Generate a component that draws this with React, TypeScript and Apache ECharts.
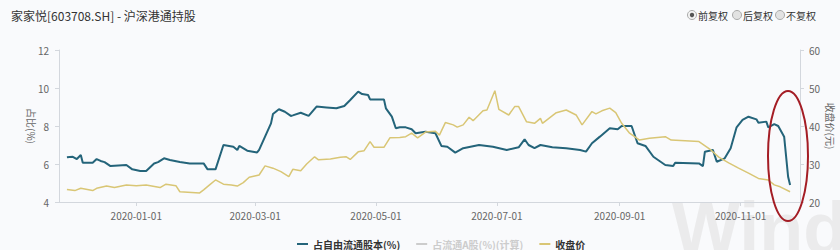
import React, { useEffect, useRef } from 'react';
import * as echarts from 'echarts';

const titleText = '家家悦[603708.SH] - 沪深港通持股';
const radioLabels = ['前复权', '后复权', '不复权'];
const legendNames = ['占自由流通股本(%)', '占流通A股(%)(计算)', '收盘价'];
const xTickDates = ['2020-01-01', '2020-03-01', '2020-05-01', '2020-07-01', '2020-09-01', '2020-11-01'];
const leftAxisName = '占比(%)';
const rightAxisName = '收盘价(元)';
const watermarkText = 'Wind';
const xMin = '2019-11-23';
const xMax = '2020-12-01';

// 占自由流通股本(%)
const freeFloatDates = [
  '2019-11-27', '2019-11-30', '2019-12-02', '2019-12-04', '2019-12-05', '2019-12-10', '2019-12-12', '2019-12-14',
  '2019-12-16', '2019-12-19', '2019-12-27', '2019-12-30', '2020-01-03', '2020-01-06', '2020-01-10', '2020-01-12',
  '2020-01-15', '2020-01-18', '2020-01-23', '2020-01-28', '2020-02-04', '2020-02-06', '2020-02-10', '2020-02-14',
  '2020-02-19', '2020-02-21', '2020-02-22', '2020-02-26', '2020-03-02', '2020-03-03', '2020-03-06', '2020-03-09',
  '2020-03-10', '2020-03-13', '2020-03-16', '2020-03-19', '2020-03-20', '2020-03-24', '2020-03-28', '2020-04-01',
  '2020-04-06', '2020-04-11', '2020-04-15', '2020-04-18', '2020-04-22', '2020-04-24', '2020-04-27', '2020-04-28',
  '2020-05-05', '2020-05-06', '2020-05-09', '2020-05-11', '2020-05-13', '2020-05-16', '2020-05-19', '2020-05-21',
  '2020-05-26', '2020-05-31', '2020-06-03', '2020-06-06', '2020-06-10', '2020-06-14', '2020-06-22', '2020-06-29',
  '2020-07-06', '2020-07-12', '2020-07-15', '2020-07-17', '2020-07-20', '2020-07-23', '2020-07-29', '2020-08-05',
  '2020-08-12', '2020-08-15', '2020-08-18', '2020-08-22', '2020-08-27', '2020-08-31', '2020-09-02', '2020-09-07',
  '2020-09-10', '2020-09-14', '2020-09-18', '2020-09-24', '2020-09-28', '2020-09-29', '2020-10-11', '2020-10-13',
  '2020-10-14', '2020-10-18', '2020-10-20', '2020-10-24', '2020-10-27', '2020-10-30', '2020-11-02', '2020-11-05',
  '2020-11-09', '2020-11-10', '2020-11-14', '2020-11-15', '2020-11-18', '2020-11-20', '2020-11-23', '2020-11-25',
  '2020-11-26',
];
const freeFloatValues = [
  6.35, 6.38, 6.26, 6.47, 6.07, 6.07, 6.26, 6.16,
  6.1, 5.89, 5.95, 5.72, 5.63, 5.63, 6.03, 6.1,
  6.3, 6.21, 6.1, 6.03, 6.03, 5.72, 5.72, 7.0,
  6.91, 6.74, 6.95, 6.7, 6.61, 6.74, 7.44, 8.14,
  8.63, 8.88, 8.75, 8.53, 8.56, 8.7, 8.53, 9.02,
  8.98, 8.93, 9.05, 9.37, 9.81, 9.68, 9.63, 9.4,
  9.4, 8.93, 8.49, 7.88, 7.93, 7.93, 7.83, 7.62,
  7.7, 7.62, 6.95, 6.91, 6.6, 6.83, 7.0, 6.91,
  6.74, 6.88, 7.3, 7.0, 6.83, 7.0, 6.88, 6.83,
  6.74, 6.65, 7.09, 7.44, 7.88, 7.83, 8.0, 8.0,
  7.09, 6.95, 6.38, 5.95, 5.89, 6.07, 6.03, 5.89,
  6.65, 6.74, 6.12, 6.3, 6.83, 7.93, 8.32, 8.49,
  8.35, 8.17, 8.23, 7.93, 8.1, 8.0, 7.44, 5.33,
  4.89,
];

// 占流通A股(%)(计算) — hidden in the legend, no visible data
const aShareDates: string[] = [];
const aShareValues: number[] = [];

// 收盘价
const closeDates = [
  '2019-11-27', '2019-12-01', '2019-12-04', '2019-12-10', '2019-12-12', '2019-12-17', '2019-12-21', '2019-12-27',
  '2020-01-01', '2020-01-06', '2020-01-13', '2020-01-16', '2020-01-21', '2020-01-23', '2020-02-02', '2020-02-04',
  '2020-02-07', '2020-02-10', '2020-02-14', '2020-02-18', '2020-02-21', '2020-02-24', '2020-02-27', '2020-03-03',
  '2020-03-06', '2020-03-10', '2020-03-14', '2020-03-18', '2020-03-20', '2020-03-24', '2020-03-27', '2020-03-31',
  '2020-04-02', '2020-04-08', '2020-04-13', '2020-04-16', '2020-04-18', '2020-04-22', '2020-04-25', '2020-04-28',
  '2020-04-30', '2020-05-05', '2020-05-08', '2020-05-13', '2020-05-16', '2020-05-19', '2020-05-22', '2020-05-26',
  '2020-05-31', '2020-06-02', '2020-06-05', '2020-06-09', '2020-06-11', '2020-06-14', '2020-06-17', '2020-06-19',
  '2020-06-24', '2020-06-26', '2020-06-30', '2020-07-02', '2020-07-07', '2020-07-10', '2020-07-12', '2020-07-16',
  '2020-07-20', '2020-07-23', '2020-07-24', '2020-07-31', '2020-08-05', '2020-08-10', '2020-08-13', '2020-08-18',
  '2020-08-20', '2020-08-23', '2020-08-27', '2020-08-30', '2020-09-02', '2020-09-06', '2020-09-11', '2020-09-16',
  '2020-09-24', '2020-09-27', '2020-10-04', '2020-10-11', '2020-10-17', '2020-10-21', '2020-10-26', '2020-10-31',
  '2020-11-05', '2020-11-10', '2020-11-15', '2020-11-18', '2020-11-21', '2020-11-26',
];
const closeValues = [
  23.3, 23.0, 23.6, 23.0, 23.6, 24.2, 23.8, 24.5,
  24.3, 24.5, 23.8, 24.7, 24.3, 22.7, 22.4, 23.2,
  24.5, 25.8, 24.7, 24.5, 24.2, 25.1, 26.5, 27.1,
  29.5, 28.9, 28.0, 26.7, 28.6, 28.2, 30.0, 31.9,
  31.1, 31.3, 31.8, 31.9, 31.2, 33.2, 33.5, 35.9,
  34.4, 34.4, 36.9, 37.0, 37.2, 38.1, 36.9, 38.4,
  38.6, 37.6, 40.9, 40.3, 39.7, 40.3, 42.3, 41.4,
  44.0, 44.2, 49.3, 44.4, 42.9, 45.1, 45.1, 41.1,
  40.7, 42.0, 40.7, 43.5, 44.2, 42.9, 40.3, 43.8,
  43.2, 44.0, 44.7, 43.5, 40.7, 38.1, 36.3, 36.8,
  37.2, 36.3, 36.1, 35.9, 33.7, 31.8, 30.3, 28.9,
  27.6, 26.2, 25.8, 24.5, 24.0, 22.7,
];

const toTs = (s: string) => {
  const [y, m, d] = s.split('-').map(Number);
  return Date.UTC(y, m - 1, d);
};
const pairs = (d: string[], v: number[]) => d.map((x, i) => [toTs(x), v[i]]);
const pad = (n: number) => (n < 10 ? '0' + n : '' + n);

const FONT = '"Noto Sans CJK SC", "Noto Sans", sans-serif';
const TEAL = '#24647a';
const YELLOW = '#d9c675';

export default function App() {
  const ref = useRef<HTMLDivElement>(null);
  useEffect(() => {
    if (!ref.current) return;
    const chart = echarts.init(ref.current, null, { renderer: 'svg' });
    const tickTs = xTickDates.map(toTs);
    const radioX = [692, 737, 780];
    const radioGraphics: any[] = [];
    radioLabels.forEach((lbl, i) => {
      radioGraphics.push({
        type: 'circle',
        shape: { cx: radioX[i], cy: 15, r: 4.5 },
        style: { fill: i === 0 ? '#f4f4f4' : '#e2e2e2', stroke: '#aaaaaa', lineWidth: 1 },
      });
      if (i === 0) {
        radioGraphics.push({
          type: 'circle',
          shape: { cx: radioX[i], cy: 15, r: 2.2 },
          style: { fill: '#555555' },
        });
      }
      radioGraphics.push({
        type: 'text',
        x: radioX[i] + 6,
        y: 15,
        style: { text: lbl, fontSize: 10, fontFamily: FONT, fill: '#333', textVerticalAlign: 'middle' },
      });
    });

    chart.setOption({
      animation: false,
      backgroundColor: '#f9fafc',
      textStyle: { fontFamily: FONT },
      graphic: [
        {
          type: 'text',
          x: 672,
          y: 192,
          z: -10,
          silent: true,
          style: {
            text: watermarkText,
            fontSize: 72,
            fontWeight: 'bold',
            fontFamily: 'Arial, "Liberation Sans", sans-serif',
            fill: '#ebebec',
          },
        },
        {
          type: 'text',
          x: 11,
          y: 15,
          style: { text: titleText, fontSize: 12, fontFamily: FONT, fill: '#333', textVerticalAlign: 'middle' },
        },
        ...radioGraphics,
        {
          type: 'ellipse',
          z: 100,
          shape: { cx: 788, cy: 156, rx: 20, ry: 65 },
          style: { fill: 'none', stroke: '#a41d25', lineWidth: 2 },
        },
      ],
      grid: { left: 59, right: 40, top: 50, bottom: 48, containLabel: false, outerBoundsMode: 'none' },
      legend: {
        left: 292,
        top: 234,
        itemGap: 16,
        itemWidth: 11,
        itemHeight: 2,
        icon: 'rect',
        inactiveColor: '#cccccc',
        textStyle: { fontSize: 10, color: '#333', fontFamily: FONT, fontWeight: 'bold' },
        data: legendNames,
        selected: { [legendNames[1]]: false },
      },
      xAxis: {
        type: 'value',
        min: toTs(xMin),
        max: toTs(xMax),
        axisLine: { lineStyle: { color: '#d3d7dd' } },
        axisTick: { show: true, customValues: tickTs, length: 4, lineStyle: { color: '#d3d7dd' } },
        axisLabel: {
          customValues: tickTs,
          color: '#666',
          fontSize: 10,
          margin: 8,
          formatter: (v: number) => {
            const d = new Date(v);
            return d.getUTCFullYear() + '-' + pad(d.getUTCMonth() + 1) + '-' + pad(d.getUTCDate());
          },
        },
        splitLine: { show: false },
      },
      yAxis: [
        {
          type: 'value',
          min: 4,
          max: 12,
          interval: 2,
          name: leftAxisName,
          nameLocation: 'middle',
          nameRotate: -90,
          nameGap: 23,
          nameMoveOverlap: false,
          nameTextStyle: { color: '#666', fontSize: 10 },
          axisLine: { show: true, lineStyle: { color: '#d3d7dd' } },
          axisTick: { show: true, length: 4, lineStyle: { color: '#d3d7dd' } },
          axisLabel: { color: '#666', fontSize: 10, margin: 10 },
          splitLine: { show: false },
        },
        {
          type: 'value',
          min: 20,
          max: 60,
          interval: 10,
          name: rightAxisName,
          nameLocation: 'middle',
          nameRotate: -90,
          nameGap: 26,
          nameMoveOverlap: false,
          nameTextStyle: { color: '#666', fontSize: 10 },
          axisLine: { show: true, lineStyle: { color: '#d3d7dd' } },
          axisTick: { show: true, length: 4, lineStyle: { color: '#d3d7dd' } },
          axisLabel: { color: '#666', fontSize: 10, margin: 9 },
          splitLine: { show: false },
        },
      ],
      series: [
        {
          name: legendNames[0],
          type: 'line',
          yAxisIndex: 0,
          showSymbol: false,
          color: TEAL,
          lineStyle: { width: 2, color: TEAL },
          data: pairs(freeFloatDates, freeFloatValues),
        },
        {
          name: legendNames[1],
          type: 'line',
          yAxisIndex: 0,
          showSymbol: false,
          color: '#999999',
          lineStyle: { width: 1.5 },
          data: pairs(aShareDates, aShareValues),
        },
        {
          name: legendNames[2],
          type: 'line',
          yAxisIndex: 1,
          showSymbol: false,
          color: YELLOW,
          lineStyle: { width: 1.5, color: YELLOW },
          data: pairs(closeDates, closeValues),
        },
      ],
    });
    return () => chart.dispose();
  }, []);
  return (
    <div
      ref={ref}
      style={{ position: 'fixed', left: 0, top: 0, width: 840, height: 250, background: '#f9fafc' }}
    />
  );
}
